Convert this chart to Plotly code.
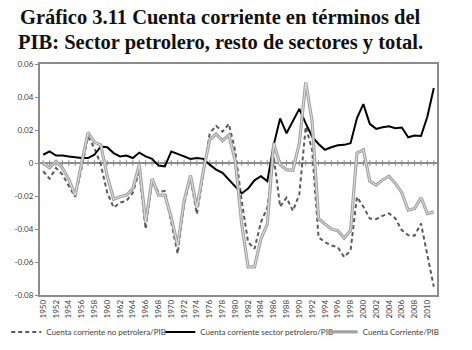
import plotly.graph_objects as go

years = [str(y) for y in range(1950, 2012)]

petrolero = [
    0.005, 0.007, 0.0045, 0.0045, 0.004, 0.0035, 0.003, 0.003, 0.005, 0.010,
    0.0095, 0.006, 0.004, 0.0045, 0.003, 0.0063, 0.004, 0.0025, -0.0015, -0.002,
    0.007, 0.0055, 0.004, 0.0025, 0.003, 0.0025, -0.001, -0.004, -0.006, -0.010,
    -0.0144, -0.0185, -0.0155, -0.0105, -0.008, -0.011, 0.011, 0.027, 0.018, 0.025,
    0.0328, 0.024, 0.016, 0.0115, 0.008, 0.0095, 0.0107, 0.011, 0.012, 0.0272,
    0.0357, 0.0237, 0.0207, 0.0217, 0.0223, 0.0211, 0.0215, 0.0156, 0.0166, 0.0164,
    0.0282, 0.0454,
]

no_petrolera = [
    -0.005, -0.0095, -0.003, -0.007, -0.014, -0.0205, -0.003, 0.016, 0.009, -0.001,
    -0.018, -0.027, -0.024, -0.023, -0.018, -0.005, -0.040, -0.011, -0.0175, -0.017,
    -0.036, -0.055, -0.025, -0.009, -0.031, -0.007, 0.018, 0.0225, 0.019, 0.0237,
    0.007, -0.023, -0.048, -0.052, -0.036, -0.027, 0.004, -0.0265, -0.021, -0.029,
    -0.019, 0.022, 0.008, -0.045, -0.048, -0.050, -0.051, -0.057, -0.053, -0.0205,
    -0.0265, -0.0336, -0.034, -0.032, -0.0306, -0.0336, -0.0407, -0.0438, -0.044, -0.0367,
    -0.055, -0.075,
]

total = [
    0.000, -0.003, 0.001, -0.003, -0.010, -0.0195, 0.000, 0.0185, 0.0125, 0.011,
    -0.008, -0.022, -0.0205, -0.0195, -0.0155, -0.001, -0.036, -0.0095, -0.0195, -0.0195,
    -0.033, -0.050, -0.023, -0.0075, -0.027, -0.005, 0.014, 0.0176, 0.0135, 0.017,
    0.001, -0.037, -0.063, -0.063, -0.046, -0.037, 0.012, -0.001, -0.004, -0.0045,
    0.012, 0.049, 0.025, -0.0336, -0.037, -0.040, -0.041, -0.0455, -0.041, 0.006,
    0.008, -0.011, -0.0134, -0.0103, -0.008, -0.0124, -0.018, -0.0286, -0.0276, -0.021,
    -0.0306, -0.0296,
]

names = [
    "Cuenta corriente no petrolera/PIB",
    "Cuenta corriente sector petrolero/PIB",
    "Cuenta Corriente/PIB",
]

y_ticks = [0.06, 0.04, 0.02, 0, -0.02, -0.04, -0.06, -0.08]
y_labels = ["0.06", "0.04", "0.02", "0", "-0.02", "-0.04", "-0.06", "-0.08"]
x_ticks = years[::2]

title_lines = ["Gráfico 3.11 Cuenta corriente en términos del",
               "PIB: Sector petrolero, resto de sectores y total."]

fig = go.Figure()

# small tick marks on the category axis at zero
fig.add_trace(go.Scatter(
    x=years, y=[0] * len(years), mode="markers",
    marker=dict(symbol="line-ns", size=4, line=dict(width=1, color="#8a8a8a")),
    showlegend=False, hoverinfo="skip"))

fig.add_trace(go.Scatter(
    x=years, y=no_petrolera, mode="lines", name=names[0], legend="legend",
    line=dict(color="#5a5a5a", width=2, dash="4px,3px")))
fig.add_trace(go.Scatter(
    x=years, y=petrolero, mode="lines", name=names[1], legend="legend2",
    line=dict(color="#000000", width=2)))
fig.add_trace(go.Scatter(
    x=years, y=total, mode="lines", name=names[2], legend="legend3",
    line=dict(color="#a3a3a3", width=3.2)))
fig.add_trace(go.Scatter(
    x=years, y=total, mode="lines", showlegend=False, hoverinfo="skip",
    line=dict(color="#e6e6e6", width=0.9)))

leg_font = dict(family="Lato", size=8, color="#404040")
leg_common = dict(orientation="h", xanchor="left", y=-0.16, yanchor="middle",
                  font=leg_font, bgcolor="rgba(0,0,0,0)")

title_font = dict(family="Liberation Serif", size=20.5, color="#111111")
annotations = [
    dict(text="<b>" + title_lines[0] + "</b>", xref="paper", yref="paper",
         x=0.455, y=1.2035, xanchor="center", yanchor="middle", showarrow=False,
         font=title_font),
    dict(text="<b>" + title_lines[1] + "</b>", xref="paper", yref="paper",
         x=0.455, y=1.0952, xanchor="center", yanchor="middle", showarrow=False,
         font=title_font),
]

fig.update_layout(
    width=472, height=350,
    margin=dict(l=40, r=35, t=64, b=55, autoexpand=False),
    paper_bgcolor="white", plot_bgcolor="white",
    showlegend=True,
    legend=dict(x=-0.085, **leg_common),
    legend2=dict(x=0.303, **leg_common),
    legend3=dict(x=0.712, **leg_common),
    font=dict(family="Lato", size=8, color="#404040"),
    annotations=annotations,
)

fig.update_xaxes(
    type="category", categoryorder="array", categoryarray=years,
    tickmode="array", tickvals=x_ticks, ticktext=x_ticks,
    tickangle=-90, tickfont=dict(family="Lato", size=8, color="#404040"),
    showgrid=False, zeroline=False,
    showline=True, linecolor="#8c8c8c", linewidth=1.5, mirror=True,
    ticks="", range=[-0.5, len(years) - 0.5],
)
fig.update_yaxes(
    range=[-0.08, 0.06], tickmode="array", tickvals=y_ticks, ticktext=y_labels,
    tickfont=dict(family="Lato", size=8, color="#404040"),
    showgrid=False, zeroline=True, zerolinecolor="#8c8c8c", zerolinewidth=2,
    showline=True, linecolor="#8c8c8c", linewidth=2, mirror=True,
    ticks="outside", ticklen=3, tickcolor="#8c8c8c",
)

fig.write_html("out.html")
